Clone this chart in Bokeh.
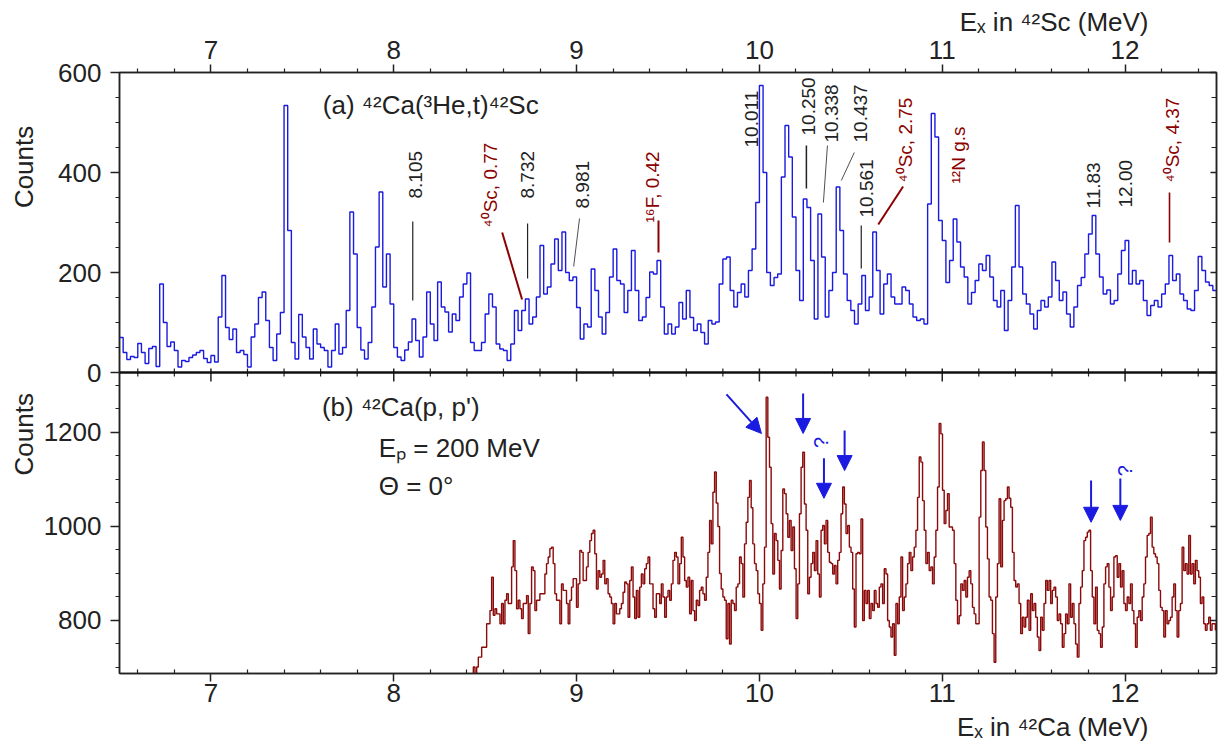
import numpy as np
from bokeh.plotting import figure
from bokeh.layouts import row
from bokeh.models import (Range1d, LinearAxis, FixedTicker, CustomJSTickFormatter,
                          Span, Label, Arrow, NormalHead, ColumnDataSource, Title)
from bokeh.embed import file_html
from bokeh.resources import INLINE
from bokeh.core.properties import value

# ---------------- data ----------------
# (a) 42Ca(3He,t)42Sc spectrum, 0.02 MeV bins starting at 6.50 MeV
sc_start = 6.50
sc_bin = 0.02
sc_counts = [
    70, 40, 26, 32, 30, 58, 40, 18, 48, 52,
    12, 177, 100, 52, 61, 44, 11, 24, 22, 30,
    35, 40, 44, 28, 20, 34, 21, 111, 194, 90,
    66, 87, 40, 44, 36, 11, 71, 97, 150, 161,
    104, 50, 24, 77, 120, 534, 284, 60, 27, 116,
    71, 50, 27, 87, 57, 50, 44, 11, 44, 97,
    37, 50, 124, 321, 237, 90, 45, 27, 60, 131,
    251, 361, 171, 237, 137, 50, 31, 24, 45, 61,
    107, 64, 31, 71, 161, 97, 64, 181, 131, 121,
    81, 117, 104, 151, 177, 199, 60, 44, 44, 60,
    117, 157, 131, 57, 47, 44, 24, 57, 124, 84,
    124, 147, 97, 111, 151, 254, 157, 171, 217, 267,
    204, 281, 200, 184, 191, 130, 67, 97, 91, 207,
    164, 111, 77, 120, 191, 247, 184, 177, 120, 164,
    244, 164, 104, 111, 150, 201, 197, 224, 131, 77,
    97, 77, 91, 140, 107, 164, 110, 84, 97, 80,
    57, 104, 97, 101, 177, 227, 231, 164, 131, 160,
    177, 151, 204, 247, 340, 574, 400, 200, 174, 190,
    197, 391, 494, 431, 311, 204, 144, 347, 330, 224,
    107, 317, 231, 111, 164, 200, 371, 284, 197, 144,
    124, 97, 137, 194, 124, 151, 281, 204, 117, 177,
    197, 151, 137, 137, 171, 164, 137, 111, 104, 107,
    97, 337, 518, 471, 304, 264, 180, 224, 307, 261,
    211, 191, 137, 160, 184, 217, 204, 234, 191, 144,
    131, 164, 84, 144, 211, 334, 211, 157, 137, 117,
    87, 124, 144, 131, 151, 221, 184, 144, 161, 117,
    91, 131, 174, 190, 237, 277, 314, 237, 191, 157,
    165, 137, 144, 197, 244, 264, 177, 204, 177, 184,
    144, 114, 134, 144, 131, 157, 177, 234, 184, 197,
    157, 144, 127, 124, 164, 232, 204, 181, 174, 164,
]

# (b) 42Ca(p,p') spectrum, 0.0091 MeV bins starting at 8.4262 MeV
ca_start = 8.4262
ca_bin = 0.0091
ca_counts_a = [
    650,
    701, 680, 701, 722, 722, 743, 743, 743, 793, 793,
    821, 892, 811, 825, 814, 814, 793, 836, 793, 843,
    857, 836, 836, 914, 970, 906, 825, 843, 825, 804,
    836, 836, 853, 772, 836, 914, 906, 821, 843, 843,
    857, 857, 857, 899, 921, 935, 953, 956, 921, 857,
    843, 843, 793, 878, 864, 864, 836, 793, 843, 871,
    889, 889, 828, 878, 949, 945, 885, 885, 914, 945,
    970, 985, 992, 942, 867, 906, 892, 899, 928, 878,
    889, 857, 850, 836, 793, 836, 814, 814, 825, 836,
    860, 882, 878, 807, 885, 914, 850, 804, 864, 807,
    871, 899, 878, 910, 921, 935, 878, 878, 825, 807,
    857, 857, 836, 878, 850, 807, 850, 864, 843, 878,
    928, 945, 935, 878, 921, 977, 935, 885, 871, 892,
    814,
]
ca_counts_b = [
    885, 821, 800, 843, 832, 864, 871, 857, 843, 892,
    945, 1013, 963, 1073, 1116, 1050, 1000, 900, 867, 850,
    843, 761, 836, 750, 843, 836, 821, 871, 878, 935,
    921, 850, 963, 1009, 1062, 1098, 1040, 963, 921, 906,
    857, 836, 779, 878, 956, 1275, 1190, 1126, 1006, 899,
    985, 970, 928, 867, 949, 1080, 1070, 1027, 977, 1013,
    949, 999, 910, 804, 878, 1027, 1126, 1158, 1048, 992,
    857, 892, 921, 945, 906, 970, 899, 850, 992, 1002,
    963, 1013, 945, 924, 921, 899, 917, 878, 928, 945,
    1027, 1084, 1048, 985, 1002, 956, 945, 867, 786, 942,
    945, 942, 1016, 800, 864, 836, 864, 804, 836, 821,
    864, 836, 828, 871, 878, 836, 910, 899, 800, 786,
    765, 793, 726, 836, 793, 850, 935, 821, 850, 878,
    921, 945, 906, 935, 956, 992, 1062, 1148, 1137, 1055,
    992, 921, 945, 906, 914, 878, 935, 992, 1084, 1219,
    1197, 1077, 1006, 1034, 1070, 999,
]
ca_counts_c = [
    999, 992, 921, 843, 793, 810, 878, 864, 885, 850,
    892, 906, 878, 828, 814, 793, 793, 1020, 1119, 1180,
    1119, 999, 931, 850, 843, 772, 711, 850, 921, 1059,
    914, 1013, 1055, 1059, 1084, 1060, 1041, 945, 885, 871,
    878, 836, 772, 807, 786, 807, 843, 779, 857, 821,
    836, 807, 765, 736, 807, 779, 836, 885, 864, 885,
    836, 864, 871, 850, 800, 814, 793, 743, 772, 814,
    793, 878, 807, 836, 793, 750, 722, 836, 871, 906,
    970, 977, 988, 992, 906, 850, 793, 871, 779, 772,
    743, 786, 878, 914, 921, 871, 821, 850, 935, 938,
    892, 921, 871, 906, 836, 821, 850, 836, 878, 821,
    793, 743, 807, 821, 800, 850, 878, 935, 981, 985,
    1020, 956, 942, 935, 921, 864, 828, 821, 765, 821,
    793, 800, 807, 850, 878, 821, 765, 821, 836, 956,
    906, 921, 899, 981, 899, 921, 878, 928, 906, 892,
    836, 850, 793, 779, 793, 807, 779, 793, 793, 780,
]

# axis ticks
x_major = [7, 8, 9, 10, 11, 12]
x_minor = [6.6, 6.8, 7.2, 7.4, 7.6, 7.8, 8.2, 8.4, 8.6, 8.8, 9.2, 9.4, 9.6, 9.8,
           10.2, 10.4, 10.6, 10.8, 11.2, 11.4, 11.6, 11.8, 12.2, 12.4]
sc_y_major = [0, 200, 400, 600]
sc_y_minor = [50, 100, 150, 250, 300, 350, 450, 500, 550]
ca_y_major = [800, 1000, 1200]
ca_y_minor = [700, 750, 850, 900, 950, 1050, 1100, 1150, 1250, 1300]

# peak annotations of panel (a): text, position (E, counts), colour
peak_text = ["8.105", "\u2074\u2070Sc, 0.77", "8.732", "8.981", "\u00b9\u2076F, 0.42",
             "10.011", "10.250", "10.338", "10.437", "10.561", "\u2074\u2070Sc, 2.75",
             "\u00b9\u00b2N g.s", "11.83", "12.00", "\u2074\u2070Sc, 4.37"]
peak_x = [8.117, 8.528, 8.732, 9.033, 9.415, 9.956, 10.268, 10.393, 10.552, 10.585,
          10.797, 11.087, 11.826, 12.001, 12.262]
peak_y = [348, 290, 348, 328, 300, 450, 474, 460, 460, 310, 380, 378, 328, 330, 380]
peak_is_bg = [False, True, False, False, True, False, False, False, False, False,
              True, True, False, False, True]

# pointer lines of panel (a)
ptr_x0 = [8.104, 8.593, 8.732, 9.016, 9.448, 10.257, 10.372, 10.519, 10.557, 10.786, 12.243]
ptr_y0 = [302, 280, 298, 308, 304, 454, 454, 440, 294, 372, 360]
ptr_x1 = [8.104, 8.702, 8.732, 8.984, 9.448, 10.257, 10.350, 10.448, 10.557, 10.650, 12.243]
ptr_y1 = [144, 146, 188, 212, 240, 368, 340, 384, 208, 296, 260]
ptr_is_bg = [False, True, False, False, True, False, False, False, False, True, True]
ptr_w = [1.2, 2.0, 1.2, 0.8, 2.0, 1.5, 0.8, 0.8, 1.2, 2.0, 1.6]

# arrows of panel (b)
arr_x0 = [9.820, 10.239, 10.353, 10.466, 11.814, 11.974]
arr_y0 = [1281, 1283, 1145, 1204, 1098, 1102]
arr_x1 = [10.011, 10.239, 10.353, 10.466, 11.814, 11.974]
arr_y1 = [1198, 1198, 1060, 1119, 1009, 1013]
q_x = [10.339, 12.001]
q_y = [1179, 1119]

# ---------------- style ----------------
FONT = "Liberation Sans"
INK = "#222222"
BLUE = "#1a1ae0"
DRED = "#8b0000"
SPEC_RED = "#8b0a0a"

X0, X1 = 6.5, 12.5
T0, T1 = -602.0, 600.0        # panel (a) scale over the whole frame
B0, B1 = 687.2, 1966.0        # panel (b) scale over the whole frame

W, H = 1221, 751
STRIP_W = 40


def to_top(b):
    return T0 + (b - B0) * (T1 - T0) / (B1 - B0)


# narrow strip holding the two rotated "Counts" captions
strip = figure(width=STRIP_W, height=H, output_backend="svg", toolbar_location=None,
               x_range=Range1d(0, STRIP_W), y_range=Range1d(H, 0),
               x_axis_location=None, y_axis_location=None, min_border=0)
strip.grid.visible = False
strip.outline_line_color = None
strip.text(x=[23, 23], y=[118, 452], text=["Counts", "Counts"], angle=np.pi / 2,
           text_align="center", text_baseline="middle", text_color=INK,
           text_font=value(FONT), text_font_size=value("26px"))

p = figure(width=W - STRIP_W, height=H, output_backend="svg", toolbar_location=None,
           x_range=Range1d(X0, X1), y_range=Range1d(T0, T1),
           x_axis_location=None, y_axis_location=None,
           min_border_left=118 - STRIP_W, min_border_right=5,
           min_border_top=72, min_border_bottom=78)
p.extra_y_ranges = {"bot": Range1d(B0, B1)}
p.grid.visible = False
p.outline_line_color = INK
p.outline_line_width = 1.5
p.background_fill_color = "white"
p.border_fill_color = "white"


def style(ax, size="26px"):
    ax.axis_line_color = INK
    ax.axis_line_width = 1.5
    ax.major_tick_line_color = INK
    ax.minor_tick_line_color = INK
    ax.major_tick_line_width = 1.5
    ax.minor_tick_line_width = 1.2
    ax.major_label_text_font = FONT
    ax.major_label_text_font_size = size
    ax.major_label_text_color = INK


xt = FixedTicker(ticks=x_major, minor_ticks=x_minor)
ax_top = LinearAxis(ticker=xt, major_tick_out=8, major_tick_in=0,
                    minor_tick_out=4, minor_tick_in=0, major_label_standoff=6)
style(ax_top)
p.add_layout(ax_top, "above")
p.add_layout(Title(text="E\u2093 in \u2074\u00b2Sc (MeV)", align="right", offset=68,
                   text_font=FONT, text_font_size="26px", text_font_style="normal",
                   text_color=INK, standoff=2), "above")

ax_bot = LinearAxis(ticker=xt, major_tick_out=8, major_tick_in=0,
                    minor_tick_out=0, minor_tick_in=4, major_label_standoff=2)
style(ax_bot)
p.add_layout(ax_bot, "below")
p.add_layout(Title(text="E\u2093 in \u2074\u00b2Ca (MeV)", align="right", offset=68,
                   text_font=FONT, text_font_size="26px", text_font_style="normal",
                   text_color=INK, standoff=10), "below")

left_major = sc_y_major + [to_top(b) for b in ca_y_major]
left_minor = sc_y_minor + [to_top(b) for b in ca_y_minor]
yt = FixedTicker(ticks=left_major, minor_ticks=left_minor)
fmt = CustomJSTickFormatter(args=dict(T0=T0, T1=T1, B0=B0, B1=B1), code="""
    if (tick < -1) { return String(Math.round(B0 + (tick - T0) * (B1 - B0) / (T1 - T0))); }
    return String(Math.round(tick));
""")
ax_left = LinearAxis(ticker=yt, formatter=fmt, major_tick_out=9, major_tick_in=0,
                     minor_tick_out=4, minor_tick_in=0, major_label_standoff=9)
style(ax_left)
p.add_layout(ax_left, "left")
ax_right = LinearAxis(ticker=yt, formatter=CustomJSTickFormatter(code="return '';"),
                      major_tick_out=0, major_tick_in=6, minor_tick_out=0, minor_tick_in=5,
                      major_label_standoff=0)
style(ax_right, "0px")
p.add_layout(ax_right, "right")

# separator between the two panels
p.add_layout(Span(location=0, dimension="width", line_color="#111111", line_width=2.5))
p.segment(x0=x_minor, y0=[8] * len(x_minor), x1=x_minor, y1=[-8] * len(x_minor),
          line_color=INK, line_width=1.2)
p.segment(x0=x_major, y0=[8] * len(x_major), x1=x_major, y1=[-18] * len(x_major),
          line_color=INK, line_width=1.5)

# spectra
sc_x = sc_start + sc_bin * np.arange(len(sc_counts) + 1)
p.step(sc_x, sc_counts + [sc_counts[-1]], mode="after", line_color=BLUE, line_width=1.4)

ca_counts = ca_counts_a + ca_counts_b + ca_counts_c
ca_x = ca_start + ca_bin * np.arange(len(ca_counts) + 1)
p.step(ca_x, ca_counts + [ca_counts[-1]], mode="after", line_color=SPEC_RED,
       line_width=1.4, y_range_name="bot")

# peak labels
lab_src = ColumnDataSource(dict(x=peak_x, y=peak_y, text=peak_text,
                                color=[DRED if b else INK for b in peak_is_bg]))
p.text(x="x", y="y", text="text", source=lab_src, angle=np.pi / 2,
       text_align="left", text_baseline="middle", text_color="color",
       text_font=value(FONT), text_font_size=value("19px"))
ptr_src = ColumnDataSource(dict(x0=ptr_x0, y0=ptr_y0, x1=ptr_x1, y1=ptr_y1, w=ptr_w,
                                color=[DRED if b else INK for b in ptr_is_bg]))
p.segment(x0="x0", y0="y0", x1="x1", y1="y1", source=ptr_src,
          line_color="color", line_width="w")

# arrows in panel (b)
arr_src = ColumnDataSource(dict(x0=arr_x0, y0=arr_y0, x1=arr_x1, y1=arr_y1))
p.add_layout(Arrow(end=NormalHead(size=15, fill_color=BLUE, line_color=BLUE, line_width=1),
                   x_start="x0", y_start="y0", x_end="x1", y_end="y1", source=arr_src,
                   line_color=BLUE, line_width=2, y_range_name="bot"))
p.text(x=q_x, y=q_y, text=["?", "?"], angle=np.pi / 2, text_align="center",
       text_baseline="middle", text_color=BLUE, text_font=value(FONT),
       text_font_size=value("20px"), y_range_name="bot")


def label(text, x, y, rng="default"):
    p.add_layout(Label(x=x, y=y, text=text, text_font=FONT, text_font_size="26px",
                       text_color=INK, text_align="left", text_baseline="middle",
                       y_range_name=rng))


label("(a) \u2074\u00b2Ca(\u00b3He,t)\u2074\u00b2Sc", 7.612, 536)
label("(b) \u2074\u00b2Ca(p, p')", 7.607, 1255, rng="bot")
label("E\u209a = 200 MeV", 7.918, 1168, rng="bot")
label("\u0398 = 0\u00b0", 7.918, 1087, rng="bot")

layout = row(strip, p)
open("out.html", "w").write(file_html(layout, INLINE))
